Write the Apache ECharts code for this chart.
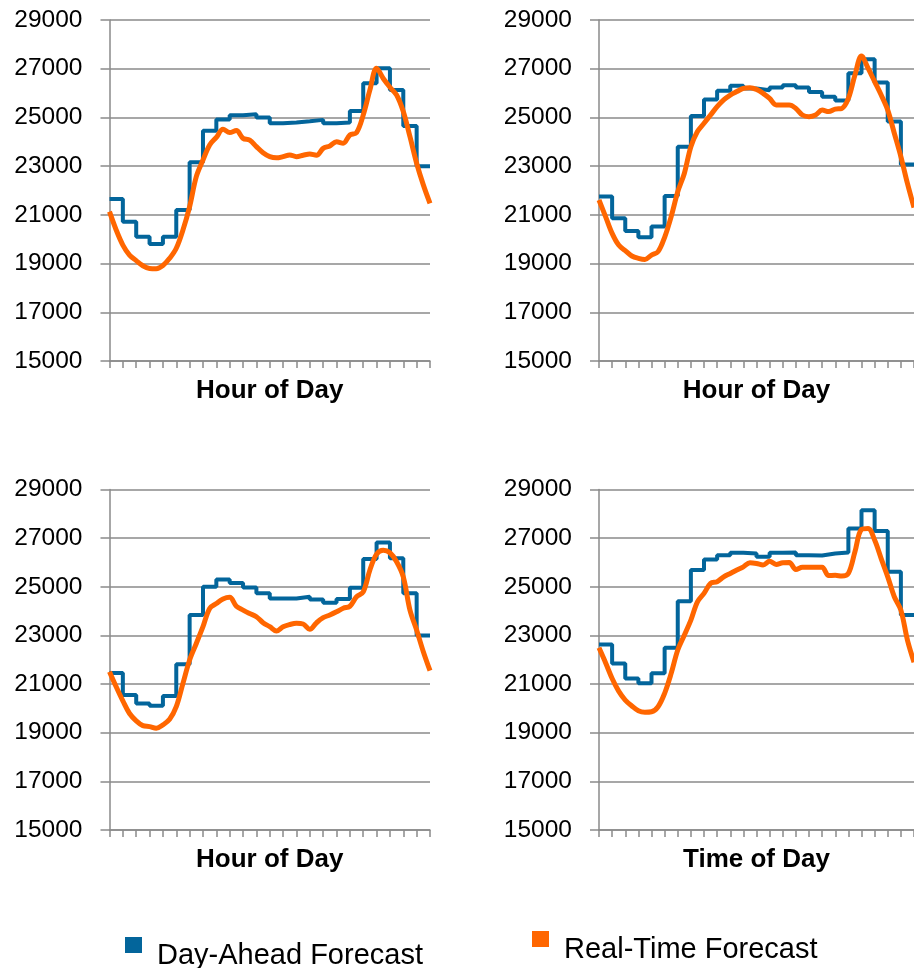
<!DOCTYPE html>
<html>
<head>
<meta charset="utf-8">
<script src="https://cdn.jsdelivr.net/npm/echarts@6/dist/echarts.min.js"></script>
<style>
html,body{margin:0;padding:0;background:#fff;}
#chart{width:914px;height:968px;}
</style>
</head>
<body>
<div id="chart"></div>
<script>
var yTicks = [15000, 17000, 19000, 21000, 23000, 25000, 27000, 29000];
var axisTitles = ['Hour of Day', 'Hour of Day', 'Hour of Day', 'Time of Day'];
var seriesNames = ['Day-Ahead Forecast', 'Real-Time Forecast'];

// Day-ahead hourly forecast (value held over each hour, hours 1..24)
var dayAhead1 = [21650,20720,20105,19800,20100,21200,23160,24450,24920,25090,25130,25000,24760,24790,24840,24900,24760,24790,25260,26400,27015,26130,24650,23000];
var dayAhead2 = [21750,20860,20340,20080,20520,21770,23800,25060,25740,26100,26300,26190,26120,26230,26320,26230,26040,25850,25690,26810,27385,26430,24830,23070];
var dayAhead3 = [21460,20550,20200,20110,20510,21820,23840,25000,25300,25160,24970,24730,24520,24520,24590,24480,24340,24500,24960,26140,26820,26170,24730,23000];
var dayAhead4 = [22630,21850,21230,21030,21440,22490,24410,25690,26120,26300,26400,26370,26230,26400,26410,26300,26290,26370,26410,27400,28150,27290,25620,23840];

// Real-time forecast, sampled every half hour (0, 0.5, ... 24)
var realTime1 = [21130,20380,19760,19350,19120,18910,18800,18790,18920,19215,19630,20380,21340,22570,23250,23870,24180,24510,24380,24460,24140,24070,23800,23550,23390,23340,23390,23460,23390,23450,23500,23450,23730,23830,24000,23940,24280,24380,25100,26130,27020,26600,26240,25920,25240,24210,23120,22230,21470];
var realTime2 = [21610,20930,20240,19760,19530,19310,19215,19170,19350,19490,20080,20930,21950,22700,23800,24420,24760,25100,25440,25720,25920,26060,26190,26220,26150,25990,25780,25510,25510,25510,25370,25100,25030,25100,25300,25240,25340,25370,25780,26740,27520,27020,26470,25920,25300,24350,23390,22290,21300];
var realTime3 = [21510,20890,20310,19790,19490,19290,19250,19180,19320,19550,20070,21030,21990,22670,23360,24110,24310,24500,24570,24200,24040,23900,23770,23520,23360,23180,23360,23450,23500,23470,23250,23520,23730,23840,23970,24120,24200,24590,24790,25690,26340,26500,26400,26030,25410,24040,23220,22330,21550];
var realTime4 = [22490,21880,21230,20710,20340,20100,19900,19840,19860,20070,20620,21440,22400,23010,23630,24380,24730,25140,25210,25410,25550,25690,25820,25990,25960,25900,26050,25920,25990,26000,25710,25800,25800,25800,25800,25460,25470,25440,25550,26440,27360,27400,26920,26160,25410,24590,24040,22810,21900];

var dayAhead = [dayAhead1, dayAhead2, dayAhead3, dayAhead4];
var realTime = [realTime1, realTime2, realTime3, realTime4];

var BLUE = '#03659b';
var ORANGE = '#ff6600';
var GRAY = '#8a8a8a';
var FONT = "'Liberation Sans', Arial, sans-serif";

var gridPos = [
  {left: 109.5, top: 20, width: 320.5, height: 341},
  {left: 599, top: 20, width: 320.5, height: 341},
  {left: 109.5, top: 489.5, width: 320.5, height: 340.5},
  {left: 599, top: 489.5, width: 320.5, height: 340.5}
];

var grids = [], xAxes = [], yAxes = [], series = [];
for (var p = 0; p < 4; p++) {
  grids.push(Object.assign({containLabel: false}, gridPos[p]));
  xAxes.push({
    type: 'value', gridIndex: p, min: 0, max: 24, interval: 1,
    name: axisTitles[p], nameLocation: 'middle', nameGap: 17,
    nameTextStyle: {fontFamily: FONT, fontSize: 26, fontWeight: 'bold', color: '#000'},
    axisLine: {show: true, onZero: false, lineStyle: {color: GRAY, width: 1.5}},
    axisTick: {show: true, length: 7, lineStyle: {color: GRAY, width: 1.5}},
    axisLabel: {show: false},
    splitLine: {show: false}
  });
  yAxes.push({
    type: 'value', gridIndex: p, min: yTicks[0], max: yTicks[yTicks.length - 1], interval: 2000,
    axisLine: {show: true, lineStyle: {color: GRAY, width: 1.5}},
    axisTick: {show: true, length: 9, lineStyle: {color: GRAY, width: 1.5}},
    axisLabel: {show: true, margin: 27, fontFamily: FONT, fontSize: 24.5, color: '#000',
      formatter: function (v) { return String(v); }},
    splitLine: {show: true, lineStyle: {color: GRAY, width: 1.5}}
  });
  var da = dayAhead[p];
  var daData = da.map(function (v, i) { return [i, v]; });
  daData.push([24, da[da.length - 1]]);
  series.push({
    name: seriesNames[0], type: 'line', xAxisIndex: p, yAxisIndex: p,
    data: daData, step: 'end', showSymbol: false, symbol: 'none',
    lineStyle: {color: BLUE, width: 4}, itemStyle: {color: BLUE}, z: 2,
    animation: false
  });
  var rtData = realTime[p].map(function (v, i) { return [i * 0.5, v]; });
  series.push({
    name: seriesNames[1], type: 'line', xAxisIndex: p, yAxisIndex: p,
    data: rtData, smooth: 0.35, showSymbol: false, symbol: 'none',
    lineStyle: {color: ORANGE, width: 5}, itemStyle: {color: ORANGE}, z: 3,
    animation: false
  });
}

function legendOpt(name, left, top) {
  return {
    data: [name], left: left, top: top, padding: 0,
    icon: 'rect', itemWidth: 17, itemHeight: 16,
    formatter: '{t|{name}}',
    textStyle: {
      fontFamily: FONT, fontSize: 29, color: '#000',
      rich: {t: {fontFamily: FONT, fontSize: 29, color: '#000', padding: [22, 0, 0, 10]}}
    },
    selectedMode: false
  };
}

var chart = echarts.init(document.getElementById('chart'), null, {renderer: 'canvas'});
chart.setOption({
  backgroundColor: '#fff',
  animation: false,
  grid: grids,
  xAxis: xAxes,
  yAxis: yAxes,
  legend: [
    legendOpt(seriesNames[0], 125, 937),
    legendOpt(seriesNames[1], 532, 931)
  ],
  series: series
});
</script>
</body>
</html>
